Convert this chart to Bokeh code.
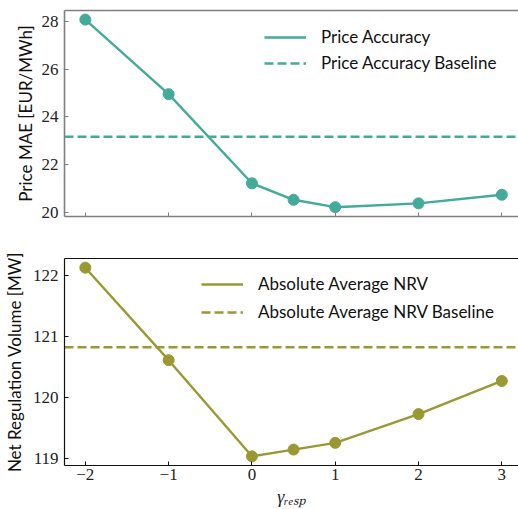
from bokeh.plotting import figure
from bokeh.models import LinearAxis, Legend, LegendItem, FixedTicker, Range1d
from bokeh.layouts import column
from bokeh.embed import file_html
from bokeh.resources import INLINE

# ---- data ----
gamma = [-2, -1, 0, 0.5, 1, 2, 3]
price_mae = [28.07, 24.95, 21.22, 20.53, 20.22, 20.38, 20.74]
price_baseline = 23.17
nrv = [122.12, 120.61, 119.04, 119.15, 119.26, 119.73, 120.27]
nrv_baseline = 120.82
x_ticks = [-2, -1, 0, 1, 2, 3]
x_tick_labels = {-2: "\u22122", -1: "\u22121", 0: "0", 1: "1", 2: "2", 3: "3"}
price_ticks = [20, 22, 24, 26, 28]
nrv_ticks = [119, 120, 121, 122]

TEAL = "#44AA99"
OLIVE = "#999933"
X_RANGE = (-2.25, 3.2)

TICK_FONT = "serif"
SANS = "Lato"


def style(p, spine_color, spine_width, yticks, show_xlabels):
    p.outline_line_color = None
    p.grid.visible = False
    p.background_fill_color = "white"
    p.border_fill_color = "white"
    xax = p.below[0]
    yax = p.left[0]
    for ax in [xax, yax]:
        ax.axis_line_color = spine_color
        ax.axis_line_width = spine_width
        ax.major_tick_in = 4
        ax.major_tick_out = 0
        ax.major_tick_line_color = spine_color
        ax.major_tick_line_width = 1
        ax.minor_tick_line_color = None
        ax.major_label_text_font = TICK_FONT
        ax.major_label_text_font_size = "17px"
        ax.major_label_text_color = "#222222"
    xax.ticker = FixedTicker(ticks=x_ticks)
    xax.major_label_overrides = x_tick_labels
    xax.major_label_standoff = 3
    if not show_xlabels:
        xax.major_label_text_color = None
    yax.ticker = FixedTicker(ticks=yticks)
    yax.major_label_standoff = 6
    yax.axis_label_text_font = SANS
    yax.axis_label_text_font_style = "normal"
    yax.axis_label_text_font_size = "17px"
    yax.axis_label_text_color = "#111111"
    top = LinearAxis(ticker=FixedTicker(ticks=[]), axis_line_color=spine_color,
                     axis_line_width=spine_width, major_tick_line_color=None,
                     minor_tick_line_color=None, major_label_text_font_size="0px",
                     major_tick_out=0, major_label_standoff=0, axis_label_standoff=0)
    p.add_layout(top, "above")
    return xax, yax


# ---- top plot ----
p1 = figure(width=518, height=237, x_range=Range1d(*X_RANGE), y_range=Range1d(19.83, 28.45),
            output_backend="svg", toolbar_location=None,
            min_border_left=63, min_border_right=0, min_border_top=10, min_border_bottom=21)
x1, y1 = style(p1, "#7f7f7f", 1.6, price_ticks, False)
y1.axis_label = "Price MAE [EUR/MWh]"
y1.axis_label_standoff = 3

l1 = p1.line(gamma, price_mae, line_color=TEAL, line_width=2.4)
p1.scatter(gamma, price_mae, size=11, fill_color=TEAL, line_color=TEAL)
b1 = p1.line([X_RANGE[0], X_RANGE[1]], [price_baseline, price_baseline],
             line_color=TEAL, line_width=2.4, line_dash="9 4")

leg1 = Legend(items=[LegendItem(label="Price Accuracy", renderers=[l1]),
                     LegendItem(label="Price Accuracy Baseline", renderers=[b1])],
              location=(200, 143), border_line_color=None, background_fill_alpha=0,
              glyph_width=42, glyph_height=20, label_height=20, spacing=5,
              label_standoff=15, padding=10, margin=0,
              label_text_font=SANS, label_text_font_size="17px", label_text_color="#111111")
p1.add_layout(leg1)

# ---- bottom plot ----
p2 = figure(width=518, height=272, x_range=Range1d(*X_RANGE), y_range=Range1d(118.89, 122.27),
            output_backend="svg", toolbar_location=None,
            min_border_left=63, min_border_right=0, min_border_top=21, min_border_bottom=44)
x2, y2 = style(p2, "#111111", 1.2, nrv_ticks, True)
y2.axis_label = "Net Regulation Volume [MW]"
y2.axis_label_standoff = 5
x2.axis_label = "\u03b3\u1d63\u2091\u209b\u209a"
x2.axis_label_text_font = TICK_FONT
x2.axis_label_text_font_style = "italic"
x2.axis_label_text_font_size = "18px"
x2.axis_label_text_color = "#222222"
x2.axis_label_standoff = 4

l2 = p2.line(gamma, nrv, line_color=OLIVE, line_width=2.4)
p2.scatter(gamma, nrv, size=11, fill_color=OLIVE, line_color=OLIVE)
b2 = p2.line([X_RANGE[0], X_RANGE[1]], [nrv_baseline, nrv_baseline],
             line_color=OLIVE, line_width=2.4, line_dash="9 4")

leg2 = Legend(items=[LegendItem(label="Absolute Average NRV", renderers=[l2]),
                     LegendItem(label="Absolute Average NRV Baseline", renderers=[b2])],
              location=(137, 143), border_line_color=None, background_fill_alpha=0,
              glyph_width=42, glyph_height=20, label_height=20, spacing=7,
              label_standoff=15, padding=10, margin=0,
              label_text_font=SANS, label_text_font_size="17px", label_text_color="#111111")
p2.add_layout(leg2)

layout = column(p1, p2, spacing=0)
open("out.html", "w").write(file_html(layout, INLINE))
